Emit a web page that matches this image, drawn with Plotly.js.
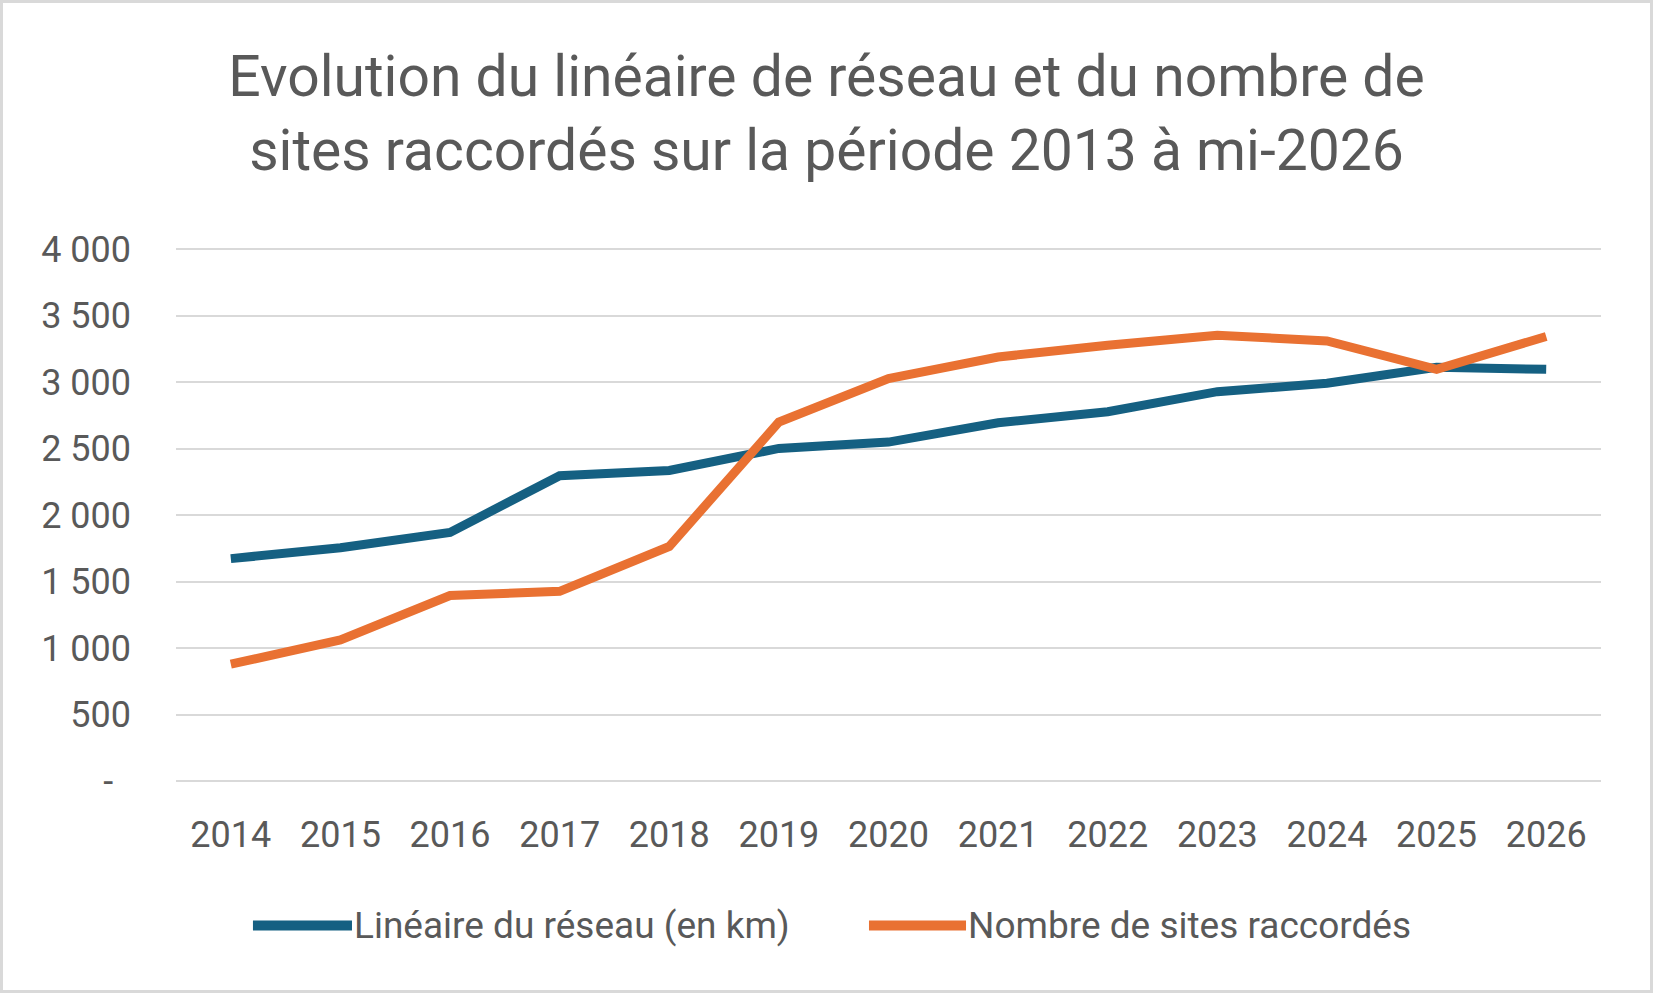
<!DOCTYPE html>
<html>
<head>
<meta charset="utf-8">
<script src="https://cdn.plot.ly/plotly-3.0.1.min.js"></script>
<style>
  body { margin: 0; background: #fff; }
  #wrap { position: relative; width: 1653px; height: 993px; }
  #frame { position: absolute; left: 0; top: 0; right: 0; bottom: 0;
           border: 3px solid #d9d9d9; pointer-events: none; }
</style>
</head>
<body>
<div id="wrap">
  <div id="chart" style="width:1653px;height:993px;"></div>
  <div id="frame"></div>
</div>
<script>
// years on the x axis
var years = ['2014', '2015', '2016', '2017', '2018', '2019', '2020',
             '2021', '2022', '2023', '2024', '2025', '2026'];

// linéaire du réseau (km)
var reseauKm = [1673, 1755, 1870, 2297, 2336, 2502, 2550, 2695, 2778, 2929, 2992, 3112, 3097];

// nombre de sites raccordés
var sitesRaccordes = [879, 1062, 1395, 1427, 1765, 2700, 3028, 3190, 3278, 3353, 3311, 3097, 3344];

var seriesNames = ['Linéaire du réseau (en km)', 'Nombre de sites raccordés'];
var seriesColors = ['#156082', '#E97132'];

// y axis ticks, excel style ("-" for zero, padded like the accounting format)
var yTickVals = [0, 500, 1000, 1500, 2000, 2500, 3000, 3500, 4000];
var yTickText = ['-\u00a0\u00a0', '500', '1 000', '1 500', '2 000', '2 500', '3 000', '3 500', '4 000'];

var grey = '#595959';
var font = 'Roboto, "Open Sans", sans-serif';

var trace1 = {
  x: years,
  y: reseauKm,
  name: seriesNames[0],
  type: 'scatter',
  mode: 'lines',
  line: {color: seriesColors[0], width: 9},
  hoverinfo: 'x+y'
};
var trace2 = {
  x: years,
  y: sitesRaccordes,
  name: seriesNames[1],
  type: 'scatter',
  mode: 'lines',
  line: {color: seriesColors[1], width: 9},
  hoverinfo: 'x+y'
};

// legend drawn by hand so the swatches are as long as in the excel chart
var legendY = -0.271;
var legendItems = [
  {x0: 0.054, x1: 0.1235, tx: 0.1235},
  {x0: 0.4863, x1: 0.5544, tx: 0.5544}
];
var shapes = legendItems.map(function (it, i) {
  return {
    type: 'line', xref: 'paper', yref: 'paper',
    x0: it.x0, x1: it.x1, y0: legendY, y1: legendY,
    line: {color: seriesColors[i], width: 10}
  };
});
var annotations = legendItems.map(function (it, i) {
  return {
    xref: 'paper', yref: 'paper', x: it.tx, y: legendY,
    xanchor: 'left', yanchor: 'middle', showarrow: false,
    text: seriesNames[i],
    font: {family: font, size: 37, color: grey}
  };
});

var layout = {
  width: 1653,
  height: 993,
  margin: {l: 176, r: 52, t: 248, b: 212},
  paper_bgcolor: '#ffffff',
  plot_bgcolor: '#ffffff',
  font: {family: font, color: grey},
  showlegend: false,
  title: {
    text: 'Evolution du linéaire de réseau et du nombre de<br>sites raccordés sur la période 2013 à mi-2026',
    font: {family: font, size: 57, color: grey},
    x: 0.5,
    xanchor: 'center',
    y: 0.903,
    yanchor: 'middle'
  },
  xaxis: {
    type: 'category',
    range: [-0.5, 12.5],
    showgrid: false,
    showline: false,
    zeroline: false,
    ticks: '',
    ticklabelstandoff: 29,
    tickfont: {family: font, size: 36, color: grey}
  },
  yaxis: {
    // a bit above 4000 so the top gridline is still drawn
    range: [0, 4010],
    tickvals: yTickVals,
    ticktext: yTickText,
    showgrid: true,
    gridcolor: '#d9d9d9',
    gridwidth: 2,
    zeroline: true,
    zerolinecolor: '#d9d9d9',
    zerolinewidth: 2,
    showline: false,
    ticks: '',
    ticklabelstandoff: 44,
    tickfont: {family: font, size: 36, color: grey}
  },
  shapes: shapes,
  annotations: annotations
};

Plotly.newPlot('chart', [trace1, trace2], layout, {displayModeBar: false, staticPlot: true});
</script>
</body>
</html>
